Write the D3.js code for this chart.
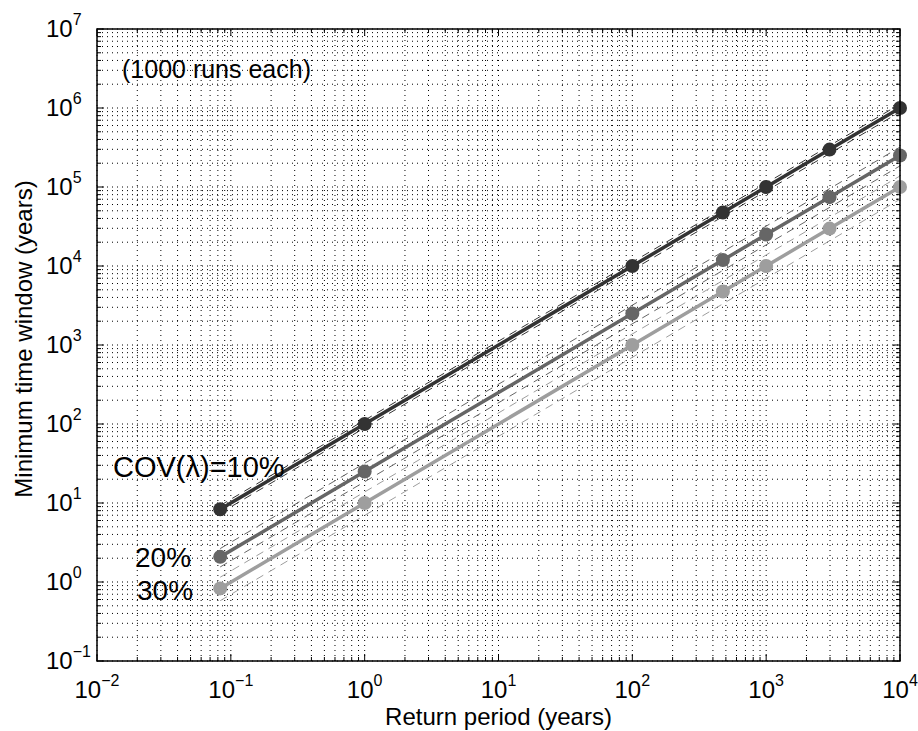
<!DOCTYPE html>
<html>
<head>
<meta charset="utf-8">
<script src="https://cdn.jsdelivr.net/npm/d3@7"></script>
<style>
  body { margin: 0; background: #fff; }
  text { font-family: "Liberation Sans", Arial, Helvetica, sans-serif; fill: #000; }
</style>
</head>
<body>
<div id="vis"></div>
<script>
// return periods (years) and minimum time windows
var periods = [0.0833, 1, 100, 475, 1000, 2975, 10000];
var window10 = [8.33, 100, 10000, 47500, 100000, 297500, 1000000];
var window20 = [2.08, 25, 2500, 11875, 25000, 74375, 250000];
var window30 = [0.83, 10, 1000, 4750, 10000, 29750, 100000];

// dashed bounds, values at first and last return period
var boundPeriods = [0.0833, 10000];
var upper10 = [9.3, 1120000];
var lower10 = [7.45, 890000];
var upper20 = [2.65, 320000];
var lower20 = [1.55, 185000];
var upper30 = [1.15, 138000];
var lower30 = [0.58, 70000];

var xTicks = [-2, -1, 0, 1, 2, 3, 4];
var yTicks = [-1, 0, 1, 2, 3, 4, 5, 6, 7];

var width = 918;
var height = 731;
var margin = { left: 97, right: 18, top: 29, bottom: 70 };

var x = d3.scaleLog().domain([1e-2, 1e4]).range([margin.left, width - margin.right]);
var y = d3.scaleLog().domain([1e-1, 1e7]).range([height - margin.bottom, margin.top]);

var x0 = x.range()[0], x1 = x.range()[1];
var y0 = y.range()[0], y1 = y.range()[1];

var svg = d3.select('#vis')
    .append('svg')
    .attr('width', width)
    .attr('height', height);

// dotted grid, major and minor
var xGrid = x.ticks();
var yGrid = y.ticks();

svg.append('g')
    .selectAll('line')
    .data(xGrid)
    .enter().append('line')
    .attr('x1', (d) => x(d)).attr('x2', (d) => x(d))
    .attr('y1', y0).attr('y2', y1)
    .attr('stroke', '#000')
    .attr('stroke-width', 1)
    .attr('stroke-dasharray', '1,4');

svg.append('g')
    .selectAll('line')
    .data(yGrid)
    .enter().append('line')
    .attr('y1', (d) => y(d)).attr('y2', (d) => y(d))
    .attr('x1', x0).attr('x2', x1)
    .attr('stroke', '#000')
    .attr('stroke-width', 1)
    .attr('stroke-dasharray', '1,4');

// ticks inside on all four sides
function isMajor(v) {
    var l = Math.log10(v);
    return Math.abs(l - Math.round(l)) < 1e-6;
}

var ticks = svg.append('g').attr('stroke', '#000').attr('stroke-width', 1);
xGrid.forEach(function (d) {
    var len = isMajor(d) ? 7 : 4;
    ticks.append('line').attr('x1', x(d)).attr('x2', x(d)).attr('y1', y0).attr('y2', y0 - len);
    ticks.append('line').attr('x1', x(d)).attr('x2', x(d)).attr('y1', y1).attr('y2', y1 + len);
});
yGrid.forEach(function (d) {
    var len = isMajor(d) ? 7 : 4;
    ticks.append('line').attr('y1', y(d)).attr('y2', y(d)).attr('x1', x0).attr('x2', x0 + len);
    ticks.append('line').attr('y1', y(d)).attr('y2', y(d)).attr('x1', x1).attr('x2', x1 - len);
});

// dashed bounds
var line = d3.line()
    .x((d) => x(d[0]))
    .y((d) => y(d[1]));

var bounds = [
    { up: upper10, lo: lower10, color: '#333333' },
    { up: upper20, lo: lower20, color: '#666666' },
    { up: upper30, lo: lower30, color: '#9e9e9e' }
];

bounds.forEach(function (b) {
    [b.up, b.lo].forEach(function (vals) {
        svg.append('path')
            .datum(d3.zip(boundPeriods, vals))
            .attr('d', line)
            .attr('fill', 'none')
            .attr('stroke', b.color)
            .attr('stroke-width', 1)
            .attr('stroke-dasharray', '8,6');
    });
});

// main series
var series = [
    { values: window10, color: '#333333' },
    { values: window20, color: '#666666' },
    { values: window30, color: '#9e9e9e' }
];

series.forEach(function (s) {
    var pts = d3.zip(periods, s.values);
    svg.append('path')
        .datum(pts)
        .attr('d', line)
        .attr('fill', 'none')
        .attr('stroke', s.color)
        .attr('stroke-width', 3.5);
    svg.append('g')
        .selectAll('circle')
        .data(pts)
        .enter().append('circle')
        .attr('cx', (d) => x(d[0]))
        .attr('cy', (d) => y(d[1]))
        .attr('r', 7)
        .attr('fill', s.color);
});

// box
svg.append('rect')
    .attr('x', x0).attr('y', y1)
    .attr('width', x1 - x0).attr('height', y0 - y1)
    .attr('fill', 'none')
    .attr('stroke', '#000')
    .attr('stroke-width', 1.5);

// tick labels 10^k
function powerLabel(sel, k) {
    sel.append('tspan').text('10');
    sel.append('tspan')
        .attr('dy', -12)
        .attr('font-size', 16)
        .text(k < 0 ? '\u2212' + Math.abs(k) : String(k));
}

xTicks.forEach(function (k) {
    var t = svg.append('text')
        .attr('x', x(Math.pow(10, k)))
        .attr('y', 698)
        .attr('text-anchor', 'middle')
        .attr('font-size', 24);
    powerLabel(t, k);
});

yTicks.forEach(function (k) {
    var t = svg.append('text')
        .attr('x', 46)
        .attr('y', y(Math.pow(10, k)) + 8)
        .attr('text-anchor', 'start')
        .attr('font-size', 24);
    powerLabel(t, k);
});

// axis titles
svg.append('text')
    .attr('x', (x0 + x1) / 2)
    .attr('y', 725)
    .attr('text-anchor', 'middle')
    .attr('font-size', 24)
    .text('Return period (years)');

svg.append('text')
    .attr('transform', 'translate(32,339) rotate(-90)')
    .attr('text-anchor', 'middle')
    .attr('font-size', 24)
    .text('Minimum time window (years)');

// annotations
svg.append('text').attr('x', 122).attr('y', 78).attr('font-size', 25).text('(1000 runs each)');
svg.append('text').attr('x', 113).attr('y', 477).attr('font-size', 29).text('COV(\u03bb)=10%');
svg.append('text').attr('x', 135).attr('y', 567).attr('font-size', 28).text('20%');
svg.append('text').attr('x', 137).attr('y', 600).attr('font-size', 28).text('30%');
</script>
</body>
</html>
